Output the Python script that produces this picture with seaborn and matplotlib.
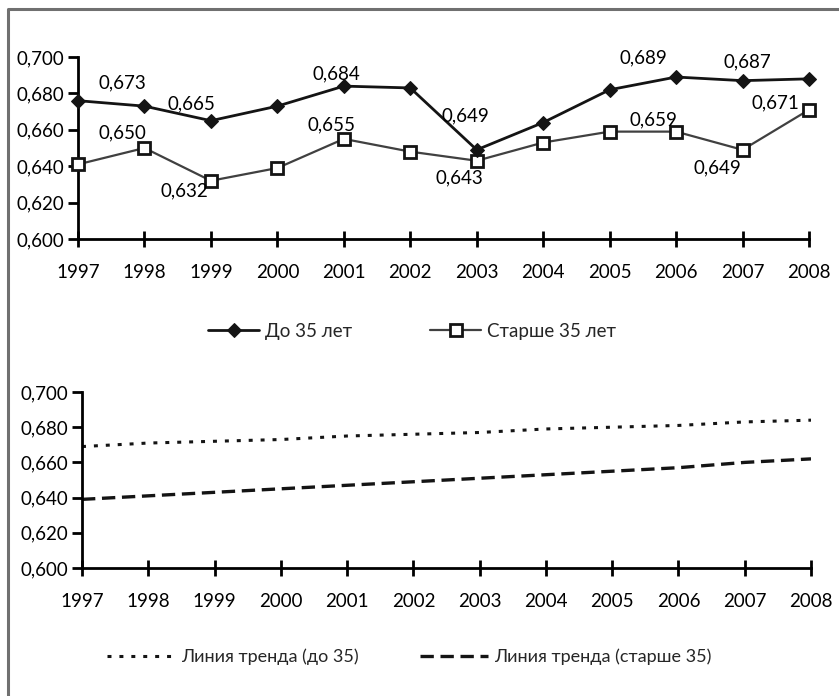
import matplotlib
matplotlib.use("Agg")
import matplotlib.pyplot as plt
from matplotlib.lines import Line2D
from matplotlib.ticker import FuncFormatter
import seaborn as sns
import pandas as pd

# Data
years = [1997, 1998, 1999, 2000, 2001, 2002, 2003, 2004, 2005, 2006, 2007, 2008]
under_35 = [0.676, 0.673, 0.665, 0.673, 0.684, 0.683, 0.649, 0.664, 0.682, 0.689, 0.687, 0.688]
over_35 = [0.641, 0.650, 0.632, 0.639, 0.655, 0.648, 0.643, 0.653, 0.659, 0.659, 0.649, 0.671]
trend_under_35 = [0.669, 0.671, 0.672, 0.673, 0.675, 0.676, 0.677, 0.679, 0.680, 0.681, 0.683, 0.684]
trend_over_35 = [0.639, 0.641, 0.643, 0.645, 0.647, 0.649, 0.651, 0.653, 0.655, 0.657, 0.660, 0.662]
y_ticks = [0.600, 0.620, 0.640, 0.660, 0.680, 0.700]
label_under = "До 35 лет"
label_over = "Старше 35 лет"
label_trend_under = "Линия тренда (до 35)"
label_trend_over = "Линия тренда (старше 35)"

sns.set_theme(style="white")
plt.rcParams["font.family"] = ["Lato", "DejaVu Sans"]
FS = 13.5

df = pd.DataFrame({"year": years, "under": under_35, "over": over_35,
                   "t_under": trend_under_35, "t_over": trend_over_35})

W, H = 839, 696
fig = plt.figure(figsize=(W / 100, H / 100), dpi=100)


def px_axes(left, right, top, bottom):
    return fig.add_axes([left / W, 1 - bottom / H, (right - left) / W, (bottom - top) / H])


comma = FuncFormatter(lambda v, _: f"{v:.3f}".replace(".", ","))


def style_axes(ax):
    ax.set_xlim(years[0], years[-1])
    ax.set_ylim(y_ticks[0], y_ticks[-1])
    ax.set_xticks(years)
    ax.set_yticks(y_ticks)
    ax.yaxis.set_major_formatter(comma)
    for s in ("top", "right"):
        ax.spines[s].set_visible(False)
    for s in ("left", "bottom"):
        ax.spines[s].set_color("black")
        ax.spines[s].set_linewidth(2)
    ax.tick_params(axis="x", direction="inout", length=12, width=2, color="black",
                   labelsize=FS, pad=12, bottom=True)
    ax.tick_params(axis="y", direction="out", length=7, width=2, color="black",
                   labelsize=FS, pad=3, left=True)
    ax.set_xlabel("")
    ax.set_ylabel("")
    for lab in ax.get_xticklabels() + ax.get_yticklabels():
        lab.set_color("black")
    ax.patch.set_alpha(0)


# Top panel: observed values
ax1 = px_axes(78, 809, 57, 239)
sns.lineplot(data=df, x="year", y="under", ax=ax1, color="#141414", lw=2,
             marker="D", markersize=7.5, markerfacecolor="#141414",
             markeredgecolor="#141414", label=label_under, legend=False, zorder=4)
sns.lineplot(data=df, x="year", y="over", ax=ax1, color="#404040", lw=1.6,
             marker="s", markersize=8, markerfacecolor="white",
             markeredgecolor="#141414", markeredgewidth=2, label=label_over,
             legend=False, zorder=3)
for l in ax1.lines:
    l.set_clip_on(False)
style_axes(ax1)

# value labels: (series, year index, pixel offset)
labels = [
    (under_35, 1, (-22, 23)), (under_35, 2, (-19, 17)), (under_35, 4, (-7, 12)),
    (under_35, 6, (-11, 34)), (under_35, 9, (-33, 19)), (under_35, 10, (5, 19)),
    (over_35, 11, (-34, 7)),
    (over_35, 1, (-22, 15)), (over_35, 2, (-27, -10)), (over_35, 4, (-12, 14)),
    (over_35, 6, (-17, -17)), (over_35, 9, (-23, 12)), (over_35, 10, (-25, -18)),
]
for series, i, (dx, dy) in labels:
    ax1.annotate(f"{series[i]:.3f}".replace(".", ","), (years[i], series[i]),
                 xytext=(dx, dy), textcoords="offset pixels", ha="center",
                 va="center", fontsize=FS, color="black", zorder=5)

h1, l1 = ax1.get_legend_handles_labels()
fig.legend(h1, l1, loc="center", bbox_to_anchor=(412 / W, 1 - 331 / H), ncol=2,
           frameon=False, fontsize=FS, handlelength=2.7, handletextpad=0.3,
           columnspacing=4.2)

# Bottom panel: linear trends
ax2 = px_axes(82, 811, 392, 568)
sns.lineplot(data=df, x="year", y="t_under", ax=ax2, color="#141414", lw=2.2,
             label=label_trend_under, legend=False)
sns.lineplot(data=df, x="year", y="t_over", ax=ax2, color="#141414", lw=2.4,
             label=label_trend_over, legend=False)
ax2.lines[0].set_dashes([1.3, 2.6])
ax2.lines[1].set_dashes([4, 2])
style_axes(ax2)

h2, l2 = ax2.get_legend_handles_labels()
fig.legend(h2, l2, loc="center", bbox_to_anchor=(409 / W, 1 - 657 / H), ncol=2,
           frameon=False, fontsize=13, handlelength=3.8, handletextpad=0.3,
           columnspacing=3.4)

# Outer frame (top and left edges)
fig.add_artist(Line2D([8 / W, 8 / W, 1.0], [0.0, 1 - 8.5 / H, 1 - 8.5 / H],
                      transform=fig.transFigure, color="#707070", lw=2.2))

fig.savefig("out.png", dpi=100)
